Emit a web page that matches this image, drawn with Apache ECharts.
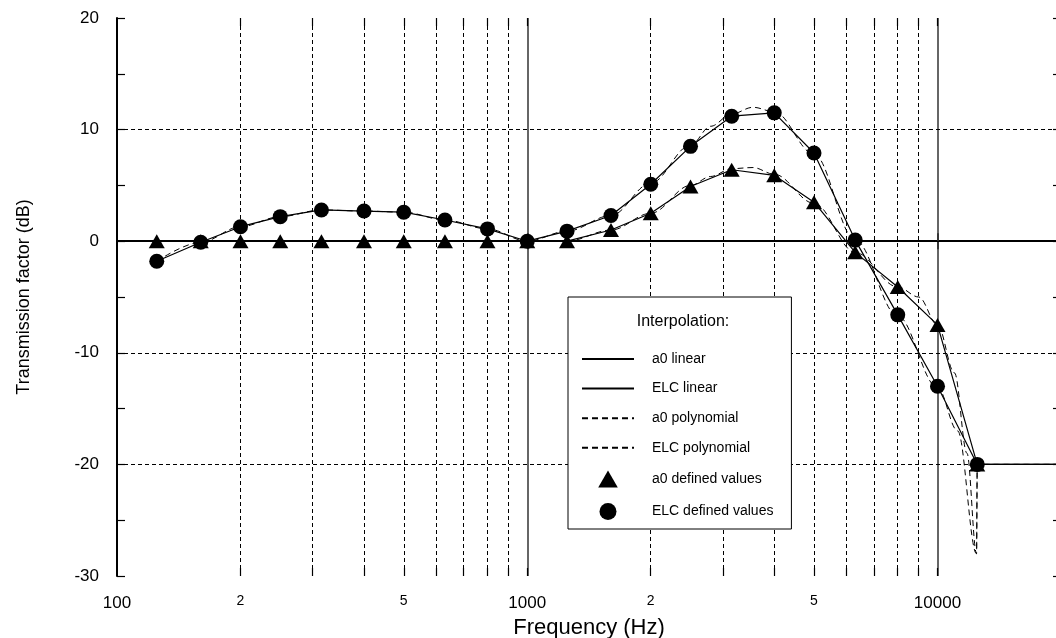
<!DOCTYPE html>
<html><head><meta charset="utf-8">
<script src="https://cdn.jsdelivr.net/npm/echarts@6/dist/echarts.min.js"></script>
<style>html,body{margin:0;padding:0;background:#fff}#c{width:1056px;height:638px}</style>
</head><body><div id="c"></div>
<script>
// ---- data ----
const freqs = [125,160,200,250,315,400,500,630,800,1000,1250,1600,2000,2500,3150,4000,5000,6300,8000,10000,12500];
const a0Values  = [0,0,0,0,0,0,0,0,0,0,0,1.0,2.5,4.9,6.4,5.9,3.5,-1.0,-4.1,-7.5,-20];
const elcValues = [-1.8,-0.1,1.3,2.2,2.8,2.7,2.6,1.9,1.1,0,0.9,2.3,5.1,8.5,11.2,11.5,7.9,0.1,-6.6,-13.0,-20];
const lineEndFreq = 20000;
const lineEndValue = -20;

const a0PolyFreqs  = [125,160,200,250,315,400,500,630,800,1000,1250,1600,2000,2500,2800,3150,3550,4000,5000,6300,8000,9000,10000,11000,11800,12450,12500,20000];
const a0PolyValues = [0,0,0,0,0,0,0,0,0,0,0,1.0,2.5,5.0,5.8,6.5,6.6,6.0,3.4,-1.0,-4.1,-5.0,-7.5,-11.8,-19.0,-28,-20,-20];
const elcPolyFreqs  = [125,160,200,250,315,400,500,630,800,1000,1250,1600,2000,2500,2800,3150,3550,4000,5000,6300,8000,10000,11200,12450,12500,20000];
const elcPolyValues = [-1.8,-0.1,1.3,2.2,2.8,2.7,2.6,1.9,1.1,0,0.9,2.3,5.2,8.6,10.3,11.4,12.0,11.6,7.8,0.1,-6.7,-13.1,-17.0,-28,-20,-20];

const xGridDashed = [200,300,400,500,600,700,800,900,2000,3000,4000,5000,6000,7000,8000,9000];
const xGridSolid = [1000,10000];
const xMinorLabels = {200: '2', 500: '5', 2000: '2', 5000: '5'};
const yGridValues = [-20,-10,0,10];
const yMin = -30, yMax = 20, yInterval = 10;
const xMin = 100, xMax = 20000;

const seriesNames = ['a0 linear','ELC linear','a0 polynomial','ELC polynomial','a0 defined values','ELC defined values'];

// ---- build ----
const FONT = "'Liberation Sans', Arial, sans-serif";
const pairs = (xs, ys) => xs.map((x, i) => [x, ys[i]]);
const a0Line = pairs(freqs, a0Values).concat([[lineEndFreq, lineEndValue]]);
const elcLine = pairs(freqs, elcValues).concat([[lineEndFreq, lineEndValue]]);

const tickLen = 0.72; // in data units (~8px)
const markData = [];
xGridDashed.forEach(f => {
  const item = {xAxis: f, lineStyle: {type: [4,3], color: '#000', width: 1}};
  if (xMinorLabels[f]) {
    item.label = {show: true, position: 'start', formatter: xMinorLabels[f], distance: 18, fontSize: 14, color: '#000', fontFamily: FONT};
  }
  markData.push(item);
});
xGridSolid.forEach(f => markData.push({xAxis: f, lineStyle: {type: 'solid', color: '#333', width: 1.5}}));
yGridValues.forEach(v => markData.push({yAxis: v, lineStyle: {type: [4,3], color: '#000', width: 1}}));
xGridDashed.concat(xGridSolid).forEach(f => {
  markData.push([{coord: [f, yMin], lineStyle: {type: 'solid', color: '#000', width: 1.2}}, {coord: [f, yMin + tickLen]}]);
  markData.push([{coord: [f, yMax - tickLen], lineStyle: {type: 'solid', color: '#000', width: 1.2}}, {coord: [f, yMax]}]);
});

const triangleIcon = 'path://M0,13L7.5,0L15,13Z';
const legendData = [
  {name: seriesNames[0]}, {name: seriesNames[1]}, {name: seriesNames[2]}, {name: seriesNames[3]},
  {name: seriesNames[4], icon: triangleIcon}, {name: seriesNames[5], icon: 'circle'}
];

const chart = echarts.init(document.getElementById('c'));
chart.setOption({
  animation: false,
  backgroundColor: '#fff',
  textStyle: {fontFamily: FONT, color: '#000'},
  grid: {left: 117, top: 18, width: 944, height: 558, show: false, containLabel: false, outerBoundsMode: 'none'},
  xAxis: [{
    type: 'log', logBase: 10, min: xMin, max: xMax,
    name: 'Frequency (Hz)', nameLocation: 'middle', nameGap: 38,
    nameTextStyle: {fontSize: 22, color: '#000', fontFamily: FONT},
    axisLine: {lineStyle: {color: '#000', width: 2}},
    axisTick: {inside: true, length: 8, lineStyle: {color: '#000', width: 1.5}},
    axisLabel: {fontSize: 17, color: '#000', margin: 19, showMaxLabel: false, fontFamily: FONT, formatter: v => String(v)},
    splitLine: {show: false}
  }, {
    type: 'log', logBase: 10, min: xMin, max: xMax, position: 'top',
    axisLine: {lineStyle: {color: '#000', width: 2}},
    axisTick: {inside: true, length: 8, lineStyle: {color: '#000', width: 1.5}},
    axisLabel: {show: false}, splitLine: {show: false}
  }],
  yAxis: [{
    type: 'value', min: yMin, max: yMax, interval: yInterval,
    name: 'Transmission factor (dB)', nameLocation: 'middle', nameGap: 84,
    nameTextStyle: {fontSize: 18, color: '#000', fontFamily: FONT},
    axisLine: {show: true, lineStyle: {color: '#000', width: 2}},
    axisTick: {show: true, inside: true, length: 8, lineStyle: {color: '#000', width: 1.2}},
    minorTick: {show: true, splitNumber: 2, length: 8, lineStyle: {color: '#000', width: 1.2}},
    axisLabel: {fontSize: 17, color: '#000', margin: 18, fontFamily: FONT},
    splitLine: {show: false}
  }, {
    type: 'value', min: yMin, max: yMax, interval: yInterval, position: 'right',
    axisLine: {show: true, lineStyle: {color: '#000', width: 2}},
    axisTick: {show: true, inside: true, length: 8, lineStyle: {color: '#000', width: 1.2}},
    minorTick: {show: true, splitNumber: 2, length: 8, lineStyle: {color: '#000', width: 1.2}},
    axisLabel: {show: false}, splitLine: {show: false}
  }],
  legend: {
    data: legendData,
    orient: 'vertical', left: 568, top: 297, z: 20,
    padding: [55, 18, 9, 13],
    itemWidth: 52, itemHeight: 17, itemGap: 15.6,
    symbolKeepAspect: true,
    backgroundColor: '#fff', borderColor: '#000', borderWidth: 1, borderRadius: 0,
    textStyle: {fontSize: 14, color: '#000', fontFamily: FONT, padding: [0, 0, 0, 13]},
    selectedMode: false
  },
  graphic: [{
    type: 'text', x: 683, y: 322, z: 100,
    style: {text: 'Interpolation:', fontSize: 16, fill: '#000', fontFamily: FONT, align: 'center', verticalAlign: 'middle'}
  }],
  series: [
    {name: 'grid', type: 'line', data: [], silent: true, z: 1,
     markLine: {silent: true, z: 1, symbol: ['none','none'], animation: false, label: {show: false}, data: markData}},
    {name: seriesNames[0], type: 'line', data: a0Line, symbol: 'none', lineStyle: {color: '#000', width: 1.2}, itemStyle: {color: '#000', opacity: 0}, z: 3},
    {name: seriesNames[1], type: 'line', data: elcLine, symbol: 'none', lineStyle: {color: '#000', width: 1.2}, itemStyle: {color: '#000', opacity: 0}, z: 3},
    {name: seriesNames[2], type: 'line', data: pairs(a0PolyFreqs, a0PolyValues), symbol: 'none', smooth: 0.35, smoothMonotone: 'x',
     lineStyle: {color: '#000', width: 1, type: [6,4]}, itemStyle: {color: '#000', opacity: 0}, z: 3},
    {name: seriesNames[3], type: 'line', data: pairs(elcPolyFreqs, elcPolyValues), symbol: 'none', smooth: 0.35, smoothMonotone: 'x',
     lineStyle: {color: '#000', width: 1, type: [6,4]}, itemStyle: {color: '#000', opacity: 0}, z: 3},
    {name: seriesNames[4], type: 'scatter', data: pairs(freqs, a0Values), symbol: 'triangle', symbolSize: [16, 14], itemStyle: {color: '#000', opacity: 1}, z: 5},
    {name: seriesNames[5], type: 'scatter', data: pairs(freqs, elcValues), symbol: 'circle', symbolSize: 15, itemStyle: {color: '#000', opacity: 1}, z: 5}
  ]
});
</script>
</body></html>
